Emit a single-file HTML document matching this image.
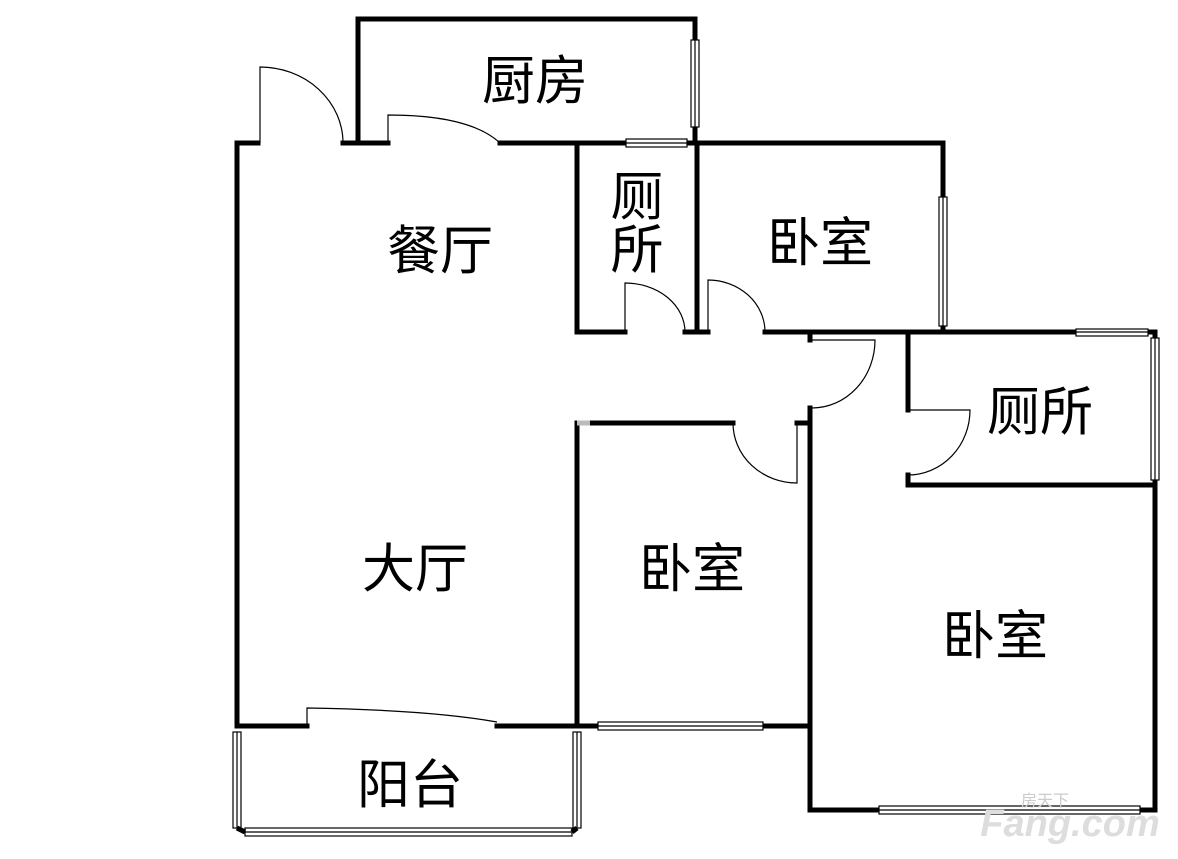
<!DOCTYPE html>
<html><head><meta charset="utf-8"><style>
html,body{margin:0;padding:0;background:#fff}
svg{display:block}
text{font-family:"Liberation Sans","Noto Sans CJK SC",sans-serif;font-size:53px;fill:#000}
</style></head><body>
<svg width="1178" height="859" viewBox="0 0 1178 859">
<g stroke="#000" stroke-width="5" fill="none" stroke-linecap="square">
<line x1="237" y1="143" x2="237" y2="726"/>
<line x1="237" y1="143" x2="258" y2="143"/>
<line x1="343" y1="143" x2="388" y2="143"/>
<line x1="500" y1="143" x2="943" y2="143"/>
<polyline points="358,143 358,19 695,19 695,143"/>
<polyline points="577,143 577,332 625,332"/>
<line x1="685" y1="332" x2="708" y2="332"/>
<line x1="697" y1="143" x2="697" y2="332"/>
<line x1="943" y1="143" x2="943" y2="332"/>
<line x1="765" y1="332" x2="1155" y2="332"/>
<line x1="1155" y1="332" x2="1155" y2="810"/>
<line x1="810" y1="810" x2="1155" y2="810"/>
<line x1="810" y1="332" x2="810" y2="340"/>
<line x1="810" y1="408" x2="810" y2="810"/>
<line x1="908" y1="332" x2="908" y2="410"/>
<polyline points="908,475 908,485 1155,485"/>
<line x1="577" y1="423" x2="577" y2="726"/>
<line x1="590" y1="423" x2="733" y2="423"/>
<line x1="797" y1="423" x2="810" y2="423"/>
<line x1="237" y1="726" x2="307" y2="726"/>
<line x1="497" y1="726" x2="810" y2="726"/>
</g>
<g stroke="#bbb" stroke-width="5"><line x1="577" y1="423" x2="590" y2="423"/></g>
<g fill="#fff" stroke="#000" stroke-width="1.2">
<rect x="691" y="40" width="8" height="87"/><line x1="695" y1="40" x2="695" y2="127"/>
<rect x="626" y="139" width="61" height="8"/><line x1="626" y1="143" x2="687" y2="143"/>
<rect x="939" y="197" width="8" height="129"/><line x1="943" y1="197" x2="943" y2="326"/>
<rect x="1076" y="329" width="72" height="7"/><line x1="1076" y1="332" x2="1148" y2="332"/>
<rect x="1151" y="338" width="8" height="142"/><line x1="1155" y1="338" x2="1155" y2="480"/>
<rect x="598" y="722" width="165" height="8"/><line x1="598" y1="726" x2="763" y2="726"/>
<rect x="879" y="806" width="261" height="8"/><line x1="879" y1="810" x2="1140" y2="810"/>
<rect x="233" y="732" width="8" height="96"/><line x1="237" y1="732" x2="237" y2="828"/>
<rect x="573" y="732" width="8" height="96"/><line x1="577" y1="732" x2="577" y2="828"/>
<rect x="245" y="828" width="327" height="8"/><line x1="245" y1="832" x2="572" y2="832"/>
</g>
<g stroke="#000" stroke-width="5"><line x1="237" y1="828" x2="245" y2="832"/><line x1="577" y1="828" x2="572" y2="832"/></g>
<g stroke="#000" stroke-width="1.2" fill="none">
<path d="M260,143 V67 A83,76 0 0 1 343,143"/>
<path d="M388,143 V115 Q470,115 500,143"/>
<path d="M625,332 V283 A60,49 0 0 1 685,332"/>
<path d="M708,332 V280 A57,52 0 0 1 765,332"/>
<path d="M812,340 H875 A63,68 0 0 1 812,408"/>
<path d="M908,410 H970 A62,65 0 0 1 908,475"/>
<path d="M797,423 V483 A64,60 0 0 1 733,423"/>
<path d="M307,726 V708 Q430,710 497,722"/>
</g>
<text x="535" y="99" text-anchor="middle">厨房</text>
<text x="440" y="269" text-anchor="middle">餐厅</text>
<text x="637" y="215" text-anchor="middle">厕</text>
<text x="637" y="268" text-anchor="middle">所</text>
<text x="820" y="261" text-anchor="middle">卧室</text>
<text x="1040" y="430" text-anchor="middle">厕所</text>
<text x="415" y="587" text-anchor="middle">大厅</text>
<text x="692" y="587" text-anchor="middle">卧室</text>
<text x="995" y="654" text-anchor="middle">卧室</text>
<text x="410" y="803" text-anchor="middle">阳台</text>
<text x="1070" y="836" text-anchor="middle" style="font-size:38px;font-weight:bold;fill:#ddd;font-style:italic">Fang.com</text>
<text x="1045" y="806" text-anchor="middle" style="font-size:16px;fill:#ccc">房天下</text>
</svg>
</body></html>
